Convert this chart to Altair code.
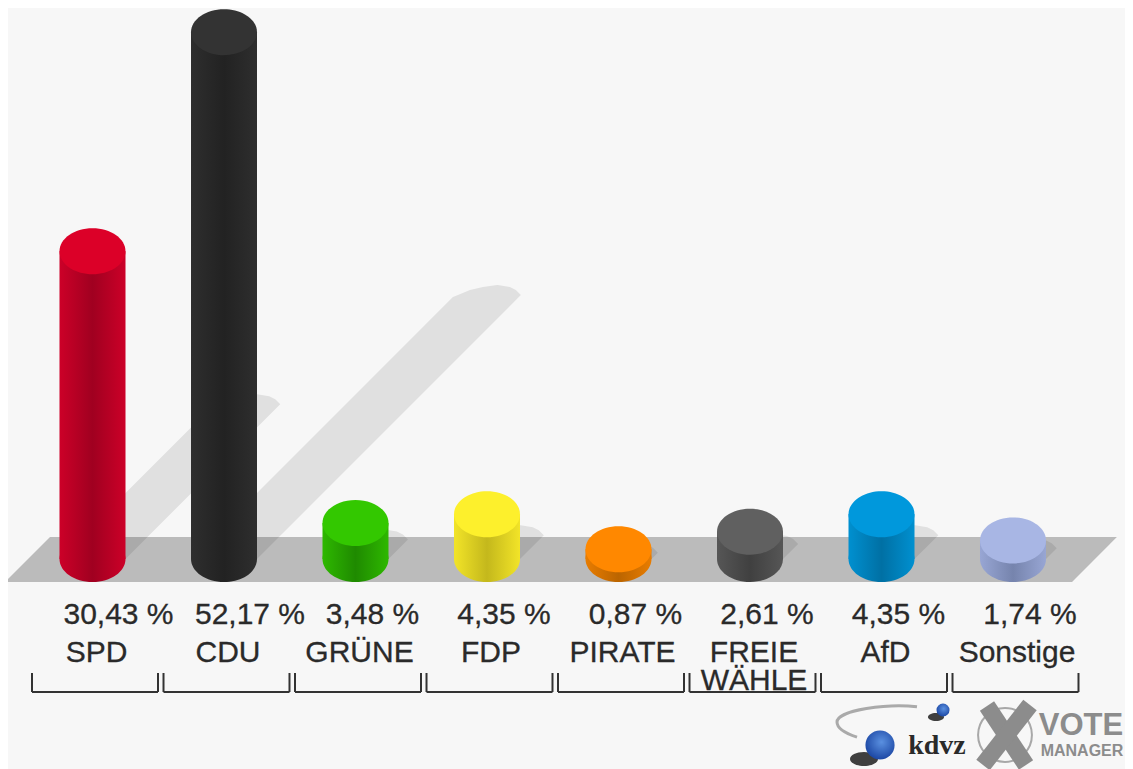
import altair as alt
import pandas as pd

parties = ["SPD", "CDU", "GRÜNE", "FDP", "PIRATE", "FREIE\nWÄHLE", "AfD", "Sonstige"]
values = [30.43, 52.17, 3.48, 4.35, 0.87, 2.61, 4.35, 1.74]
value_labels = ["30,43 %", "52,17 %", "3,48 %", "4,35 %", "0,87 %", "2,61 %", "4,35 %", "1,74 %"]
top_colors = ["#dc0028", "#333333", "#33c800", "#fdf02c", "#ff8800", "#606060", "#0098dc", "#a8b6e4"]
edge_colors = ["#cc0028", "#2e2e2e", "#2eb800", "#f2e428", "#e87c00", "#565656", "#0090d0", "#98a6d4"]
mid_colors = ["#a00020", "#222222", "#1f8a00", "#c4b81c", "#bb6500", "#404040", "#0070a4", "#7684ad"]

W, H = 1117, 761
STEP = 131.5
PX0 = 92.5
UNIT = 10.08
ZERO = 558
HALF = 33

xscale = alt.Scale(domain=[(8 - PX0) / STEP, (8 + W - PX0) / STEP], range=[0, W], nice=False, zero=False)
yscale = alt.Scale(domain=[(ZERO - 8 - H) / UNIT, (ZERO - 8) / UNIT], range=[H, 0], nice=False, zero=False)
BASE = -0.1

df = pd.DataFrame({
    "pos": list(range(len(parties))),
    "party": parties,
    "value": values,
    "label": value_labels,
    "color": top_colors,
    "base": BASE,
})
df["bx"] = df["pos"] - HALF / STEP
df["bx2"] = df["pos"] + HALF / STEP
df["tx"] = df["pos"] + df["value"].map(lambda v: 26 if v >= 10 else 17) / STEP
df["bl"] = df["pos"] - 0.46
df["br"] = df["pos"] + 0.498

# Sheared-cylinder cast shadows, derived from each value
RISE = 5.02
cap_rows = [(0, 0, 0), (2, 5, 2), (7, 17, -3), (10, 30, -9), (12, 44, -21)]
rows = []
for p, v in zip(df["pos"], df["value"]):
    d = RISE * v
    rows.append({"party": p, "sy": BASE, "sl": p - HALF / STEP, "sr": p + HALF / STEP})
    for up, dl, dr in cap_rows:
        rows.append({
            "party": p,
            "sy": BASE + (d + up) / UNIT,
            "sl": p + (-HALF + d + dl) / STEP,
            "sr": p + (HALF + d + dr) / STEP,
        })
shadow_df = pd.DataFrame(rows)


def X(f):
    return alt.X(f"{f}:Q", scale=xscale, axis=None)


def Y(f):
    return alt.Y(f"{f}:Q", scale=yscale, axis=None)


def PX(f):
    return alt.X(f"{f}:Q", scale=None, axis=None)


def PY(f):
    return alt.Y(f"{f}:Q", scale=None, axis=None)


ELLIPSE = "M-1,0A1,0.697,0,1,1,1,0A1,0.697,0,1,1,-1,0Z"
FLAT = "M-1,0A1,0.5,0,1,1,1,0A1,0.5,0,1,1,-1,0Z"
base = alt.Chart(df)

floor = alt.Chart(pd.DataFrame({
    "fy": [2.083, -2.38], "fx": [-0.323, -0.665], "fx2": [7.79, 7.449],
})).mark_area(orient="horizontal", color="#bbbbbb").encode(y=Y("fy"), x=X("fx"), x2=alt.X2("fx2"))

shadows = alt.Chart(shadow_df).mark_area(orient="horizontal", color="black", opacity=0.09).encode(
    y=Y("sy"), x=X("sl"), x2=alt.X2("sr"), detail="party:N"
)

cylinders = []
for i in range(len(parties)):
    one = alt.Chart(df.iloc[[i]])
    grad = alt.LinearGradient(
        gradient="linear", x1=0, x2=1, y1=0, y2=0,
        stops=[
            alt.GradientStop(offset=0, color=edge_colors[i]),
            alt.GradientStop(offset=0.5, color=mid_colors[i]),
            alt.GradientStop(offset=1, color=edge_colors[i]),
        ],
    )
    cylinders.append(one.mark_point(shape=ELLIPSE, size=4356, filled=True, opacity=1, strokeWidth=0, fill=grad).encode(
        x=X("pos"), y=Y("base")))
    cylinders.append(one.mark_rect(fill=grad).encode(
        x=X("bx"), x2=alt.X2("bx2"), y=Y("value"), y2=alt.Y2("base")))
    cylinders.append(one.mark_point(shape=ELLIPSE, size=4356, filled=True, opacity=1, strokeWidth=0,
                                    fill=top_colors[i]).encode(x=X("pos"), y=Y("value")))

FONT = "Liberation Sans"
TXT = "#2a2a2a"
pct = base.mark_text(font=FONT, fontSize=30, color=TXT, stroke=TXT, strokeWidth=0.3).encode(
    x=X("tx"), y=alt.value(615 - 8), text="label:N"
)
names = base.mark_text(font=FONT, fontSize=30, color=TXT, stroke=TXT, strokeWidth=0.3, xOffset=4, baseline="top",
                       lineBreak="\n", lineHeight=28).encode(
    x=X("pos"), y=alt.value(638 - 8), text="party:N"
)
BR = "#333333"
h_rule = base.mark_rule(color=BR, strokeWidth=2).encode(x=X("bl"), x2=alt.X2("br"), y=alt.value(692 - 8))
l_rule = base.mark_rule(color=BR, strokeWidth=2).encode(x=X("bl"), y=alt.value(673 - 8), y2=alt.value(692 - 8))
r_rule = base.mark_rule(color=BR, strokeWidth=2).encode(x=X("br"), y=alt.value(673 - 8), y2=alt.value(692 - 8))

# logos
OFF = 8
GREY = "#8c8c8c"
cross = alt.Chart(pd.DataFrame({
    "a": [987 - OFF, 1030 - OFF], "a2": [1026 - OFF, 983 - OFF],
    "b": [706 - OFF, 705 - OFF], "b2": [765 - OFF, 765 - OFF],
})).mark_rule(color=GREY, strokeWidth=17).encode(x=PX("a"), x2=alt.X2("a2"), y=PY("b"), y2=alt.Y2("b2"))
ring = alt.Chart(pd.DataFrame({"a": [1005 - OFF], "b": [735 - OFF]})).mark_point(
    shape="circle", size=2900, filled=False, color="#a8a8a8", strokeWidth=2, opacity=1
).encode(x=PX("a"), y=PY("b"))
vote = alt.Chart(pd.DataFrame({"a": [1081 - OFF], "b": [726 - OFF], "t": ["VOTE"]})).mark_text(
    font=FONT, fontSize=31, fontWeight="bold", color=GREY
).encode(x=PX("a"), y=PY("b"), text="t:N")
manager = alt.Chart(pd.DataFrame({"a": [1082 - OFF], "b": [751 - OFF], "t": ["MANAGER"]})).mark_text(
    font=FONT, fontSize=16, fontWeight="bold", color=GREY
).encode(x=PX("a"), y=PY("b"), text="t:N")
swoosh = alt.Chart(pd.DataFrame({"a": [877 - OFF], "b": [720 - OFF]})).mark_point(
    shape="M1,-0.33C0.3,-0.42,-1,-0.25,-1,0.05C-1,0.2,-0.8,0.33,-0.5,0.43",
    size=6400, filled=False, color="#aaaaaa", strokeWidth=3, opacity=1
).encode(x=PX("a"), y=PY("b"))
ball_shadows = alt.Chart(pd.DataFrame({"a": [864 - OFF, 936 - OFF], "b": [759 - OFF, 717 - OFF], "s": [784, 260]})).mark_point(
    shape=FLAT, filled=True, color="#2a2a2a", opacity=0.9, strokeWidth=0
).encode(x=PX("a"), y=PY("b"), size=alt.Size("s:Q", scale=None, legend=None))
ball_fill = alt.RadialGradient(
    gradient="radial", r1=0, r2=0.6, x1=0.55, y1=0.4, x2=0.55, y2=0.4,
    stops=[alt.GradientStop(offset=0, color="#5a90e0"), alt.GradientStop(offset=1, color="#1c47a4")],
)
balls = alt.Chart(pd.DataFrame({"a": [880 - OFF, 943 - OFF], "b": [745 - OFF, 710 - OFF], "s": [850, 170]})).mark_point(
    shape="circle", filled=True, fill=ball_fill, opacity=1, strokeWidth=0
).encode(x=PX("a"), y=PY("b"), size=alt.Size("s:Q", scale=None, legend=None))
kdvz = alt.Chart(pd.DataFrame({"a": [937 - OFF], "b": [746 - OFF], "t": ["kdvz"]})).mark_text(
    font="Liberation Serif", fontSize=28, fontWeight="bold", color="#2a2a2a"
).encode(x=PX("a"), y=PY("b"), text="t:N")

layers = [floor, shadows] + cylinders + [
    pct, names, h_rule, l_rule, r_rule,
    swoosh, ball_shadows, balls, kdvz, ring, cross, vote, manager,
]
chart = alt.layer(*layers).resolve_scale(x="independent", y="independent", size="independent").properties(
    width=W, height=H, padding=0, autosize=alt.AutoSizeParams(type="none"), background="#f7f7f7"
).configure_view(stroke=None)

chart.save("out.html", embed_options={"renderer": "svg", "actions": False})
